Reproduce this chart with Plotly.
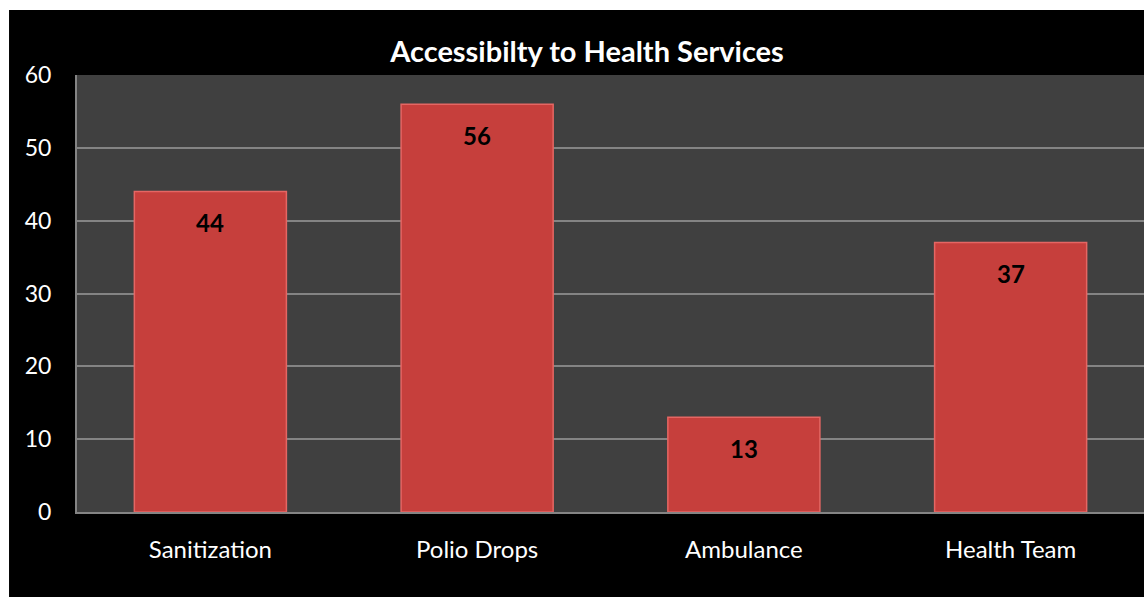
import plotly.graph_objects as go

categories = ["Sanitization", "Polio Drops", "Ambulance", "Health Team"]
values = [44, 56, 13, 37]
y_ticks = [0, 10, 20, 30, 40, 50, 60]
title_text = "Accessibilty to Health Services"

FONT = "Lato, 'Open Sans', sans-serif"

fig = go.Figure()
fig.add_trace(go.Bar(
    x=categories, y=values,
    marker=dict(color="#C63F3C", line=dict(color="#E56663", width=1.5)),
    width=0.57,
    hoverinfo="skip",
))

for c, v in zip(categories, values):
    fig.add_annotation(x=c, y=v, text=f"<b>{v}</b>", showarrow=False,
                       yshift=-31, font=dict(family=FONT, size=24, color="black"))

fig.update_layout(
    width=1147, height=597,
    margin=dict(l=77, r=3, t=75, b=85),
    paper_bgcolor="white",
    plot_bgcolor="rgba(0,0,0,0)",
    showlegend=False,
    title=dict(text=f"<b>{title_text}</b>", x=0.478, xref="paper", xanchor="center",
               y=1 - 52 / 597, yref="container", yanchor="middle",
               font=dict(family=FONT, size=29, color="white")),
    shapes=[
        dict(type="rect", xref="paper", yref="paper", x0=-0.0637, x1=1.0,
             y0=-0.1945, y1=1.1487, fillcolor="black", line_width=0, layer="below"),
        dict(type="rect", xref="paper", yref="paper", x0=0, x1=1,
             y0=0, y1=1, fillcolor="#404040", line_width=0, layer="below"),
    ],
)

fig.update_yaxes(range=[0, 60], tickvals=y_ticks, showgrid=True, gridcolor="#848484",
                 gridwidth=2, showline=True, linecolor="#848484", linewidth=2,
                 zeroline=False, ticks="", ticklabelstandoff=19,
                 tickfont=dict(family=FONT, size=23, color="white"))
fig.update_xaxes(showline=True, linecolor="#848484", linewidth=2, ticks="",
                 ticklabelstandoff=15,
                 tickfont=dict(family=FONT, size=24, color="white"))

fig.write_html("out.html")
